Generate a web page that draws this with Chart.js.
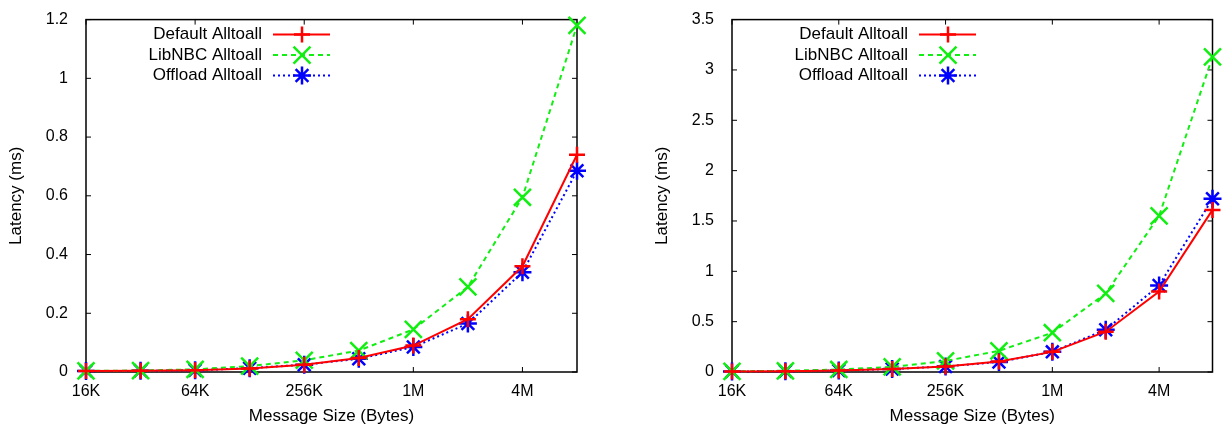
<!DOCTYPE html>
<html>
<head>
<meta charset="utf-8">
<script src="https://cdn.jsdelivr.net/npm/chart.js@4/dist/chart.umd.min.js"></script>
<style>
  html, body { margin: 0; padding: 0; background: #fff; }
  .box { position: absolute; top: 0; height: 428px; }
  #left { left: 0; width: 613px; }
  #right { left: 613px; width: 614px; }
</style>
</head>
<body>
<div class="box" id="left"><canvas id="chartA"></canvas></div>
<div class="box" id="right"><canvas id="chartB"></canvas></div>
<script>
// message sizes on the x axis (only every other one gets a label)
const sizes = ['16K', '32K', '64K', '128K', '256K', '512K', '1M', '2M', '4M', '8M'];
const seriesNames = ['Default Alltoall', 'LibNBC Alltoall', 'Offload Alltoall'];

// left panel, latency in ms
const leftDefault = [0.003, 0.004, 0.006, 0.012, 0.025, 0.048, 0.09, 0.18, 0.36, 0.74];
const leftLibnbc  = [0.004, 0.005, 0.009, 0.02, 0.04, 0.073, 0.145, 0.29, 0.595, 1.18];
const leftOffload = [0.003, 0.004, 0.006, 0.013, 0.025, 0.045, 0.085, 0.165, 0.34, 0.685];

// right panel, latency in ms
const rightDefault = [0.005, 0.008, 0.015, 0.03, 0.055, 0.105, 0.2, 0.4, 0.8, 1.61];
const rightLibnbc  = [0.007, 0.012, 0.025, 0.05, 0.11, 0.21, 0.39, 0.78, 1.55, 3.13];
const rightOffload = [0.005, 0.008, 0.015, 0.03, 0.055, 0.1, 0.2, 0.42, 0.86, 1.72];

const FONT = '"Liberation Sans", Arial, sans-serif';

const styles = [
  { color: '#ff0000', dash: [], point: 'cross', radius: 8 },
  { color: '#11ee11', dash: [5, 4], point: 'crossRot', radius: 12 },
  { color: '#0000ff', dash: [2, 3], point: 'star', radius: 9 }
];

// box around the plot + inward tick marks on all four sides
const frame = {
  id: 'frame',
  beforeDatasetsDraw(chart) {
    const { ctx, chartArea: a, scales: { x, y } } = chart;
    ctx.save();
    ctx.strokeStyle = '#000';
    ctx.lineWidth = 1.5;
    ctx.strokeRect(a.left, a.top, a.right - a.left, a.bottom - a.top);
    ctx.lineWidth = 1;
    ctx.beginPath();
    x.ticks.forEach((t, i) => {
      if (i % 2) return;
      const px = x.getPixelForTick(i);
      ctx.moveTo(px, a.bottom); ctx.lineTo(px, a.bottom - 5);
      ctx.moveTo(px, a.top); ctx.lineTo(px, a.top + 5);
    });
    y.ticks.forEach((t, i) => {
      const py = y.getPixelForTick(i);
      ctx.moveTo(a.left, py); ctx.lineTo(a.left + 5, py);
      ctx.moveTo(a.right, py); ctx.lineTo(a.right - 5, py);
    });
    ctx.stroke();
    ctx.restore();
  }
};

// gnuplot style key: text on the left, sample on the right
const keyBox = {
  id: 'keyBox',
  afterDatasetsDraw(chart) {
    const { ctx, chartArea: a } = chart;
    ctx.save();
    ctx.font = '17px ' + FONT;
    ctx.textAlign = 'right';
    ctx.textBaseline = 'middle';
    chart.data.datasets.forEach((ds, i) => {
      const yy = a.top + 15 + i * 20.5;
      ctx.fillStyle = '#000';
      ctx.fillText(ds.label, a.left + 176, yy);
      ctx.strokeStyle = ds.borderColor;
      ctx.lineWidth = ds.borderWidth;
      ctx.setLineDash(ds.borderDash);
      ctx.beginPath();
      ctx.moveTo(a.left + 187, yy);
      ctx.lineTo(a.left + 244, yy);
      ctx.stroke();
      ctx.setLineDash([]);
      ctx.lineWidth = ds.pointBorderWidth;
      Chart.helpers.drawPoint(ctx, {
        pointStyle: ds.pointStyle,
        radius: ds.pointRadius,
        borderWidth: ds.pointBorderWidth,
        rotation: 0
      }, a.left + 216, yy);
    });
    ctx.restore();
  }
};

function makeChart(id, data, yMax, yStep, padLeft, padRight) {
  new Chart(document.getElementById(id), {
    type: 'line',
    data: {
      labels: sizes,
      datasets: data.map((vals, i) => ({
        label: seriesNames[i],
        data: vals,
        borderColor: styles[i].color,
        backgroundColor: styles[i].color,
        pointBorderColor: styles[i].color,
        borderWidth: 2,
        borderDash: styles[i].dash,
        pointStyle: styles[i].point,
        pointRadius: styles[i].radius,
        pointBorderWidth: 2.5,
        tension: 0,
        fill: false,
        clip: false
      }))
    },
    options: {
      responsive: true,
      maintainAspectRatio: false,
      animation: false,
      devicePixelRatio: 1,
      layout: { padding: { left: padLeft, right: padRight, top: 13, bottom: 0 } },
      scales: {
        x: {
          offset: false,
          grid: { display: false },
          border: { display: false },
          ticks: {
            autoSkip: false,
            maxRotation: 0,
            padding: 2,
            color: '#000',
            font: { family: FONT, size: 16 },
            callback(val, i) { return i % 2 === 0 ? this.getLabelForValue(val) : ''; }
          },
          title: {
            display: true,
            text: 'Message Size (Bytes)',
            color: '#000',
            font: { family: FONT, size: 17 },
            padding: { top: 0, bottom: 1 }
          },
          afterFit(s) { s.height = 56; }
        },
        y: {
          min: 0,
          max: yMax,
          grid: { display: false },
          border: { display: false },
          ticks: {
            stepSize: yStep,
            padding: 10,
            color: '#000',
            font: { family: FONT, size: 16 },
            callback: v => String(+v.toFixed(2))
          },
          title: {
            display: true,
            text: 'Latency (ms)',
            color: '#000',
            font: { family: FONT, size: 17 },
            padding: { top: 6, bottom: 0 }
          },
          afterFit(s) { s.width = 86; }
        }
      },
      plugins: {
        legend: { display: false },
        tooltip: { enabled: false }
      }
    },
    plugins: [frame, keyBox]
  });
}

makeChart('chartA', [leftDefault, leftLibnbc, leftOffload], 1.2, 0.2, 0, 36);
makeChart('chartB', [rightDefault, rightLibnbc, rightOffload], 3.5, 0.5, 33, 4);
</script>
</body>
</html>
